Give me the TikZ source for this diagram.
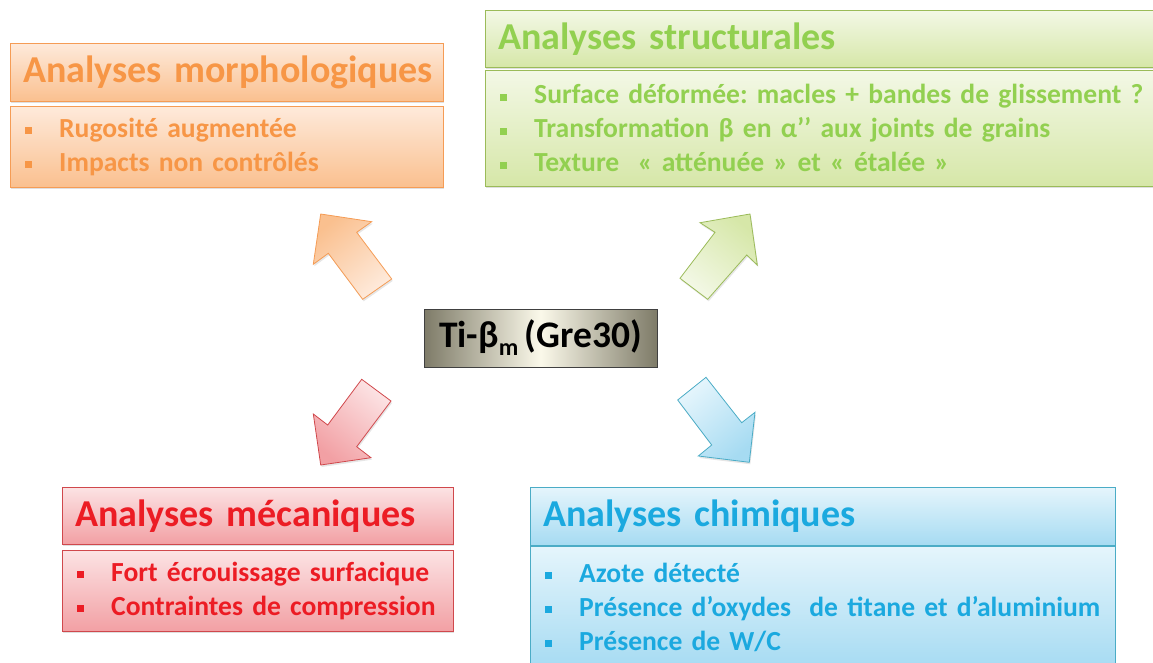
\documentclass[tikz,border=0pt]{standalone}
\usepackage{fontspec}
\setmainfont{Carlito}[WordSpace=0.78]
\frenchspacing
\usetikzlibrary{shadows}
% couleurs des quatre familles d'analyses
\definecolor{orangetxt}{HTML}{F79646}
\definecolor{orangeline}{HTML}{F59C55}
\definecolor{orangetop}{HTML}{FEEADB}
\definecolor{orangebot}{HTML}{FAC08F}
\definecolor{greentxt}{HTML}{92D050}
\definecolor{greenline}{HTML}{9BBB59}
\definecolor{greentop}{HTML}{F3F8E6}
\definecolor{greenbot}{HTML}{D6E7A8}
\definecolor{redtxt}{HTML}{EC1C24}
\definecolor{redline}{HTML}{D0484C}
\definecolor{redtop}{HTML}{FCE3E4}
\definecolor{redbot}{HTML}{F2A0A4}
\definecolor{bluetxt}{HTML}{1BA9DF}
\definecolor{blueline}{HTML}{4BACC6}
\definecolor{bluetop}{HTML}{E5F5FC}
\definecolor{bluebot}{HTML}{A6DBF2}
\definecolor{ctrdark}{HTML}{7E7B68}
\definecolor{ctrlight}{HTML}{FBF9EA}
\newcommand{\titlefont}{\fontsize{38}{44}\selectfont\bfseries}
\newcommand{\bodyfont}{\fontsize{27.6}{34}\selectfont\bfseries}
% une ligne a puce carree, sans coupure
\newcommand{\puce}[1]{\mbox{\rule[3pt]{7pt}{7pt}\hspace{27pt}#1}}
\tikzset{
  titlebox/.style={draw=#1line, top color=#1top, bottom color=#1bot, text=#1txt,
    font=\titlefont, inner xsep=13pt, align=left, anchor=north west,
    drop shadow={opacity=0.25, shadow xshift=1pt, shadow yshift=-2pt}},
  bodybox/.style={draw=#1line, top color=#1top, bottom color=#1bot, text=#1txt,
    font=\bodyfont, inner xsep=15pt, align=left, anchor=north west,
    drop shadow={opacity=0.25, shadow xshift=1pt, shadow yshift=-2pt}},
  bigarrow/.style={draw=#1line, line width=0.8pt,
    drop shadow={opacity=0.2, shadow xshift=1pt, shadow yshift=-2pt}},
}
\begin{document}
\begin{tikzpicture}[x=1pt,y=-1pt]
  \useasboundingbox (0,0) rectangle (1153,663);
  % echantillon central
  \node[draw=black!75, line width=1pt, left color=ctrdark, right color=ctrdark,
    middle color=ctrlight, minimum width=233pt, minimum height=58pt,
    font=\fontsize{37.5}{40}\selectfont\bfseries] (ech) at (540.5,338)
    {Ti-β\raisebox{-8pt}{\fontsize{24}{24}\selectfont m} (Gre30)};
  % fleches vers les analyses
  \shade[bigarrow=orange, top color=orangebot, bottom color=orangetop, shading angle=40]
    (320.7,214) -- (371.7,221.7) -- (356.7,232.3) -- (391.7,279) -- (362.7,299.3)
    -- (328.3,253.3) -- (313.3,264.3) -- cycle;
  \shade[bigarrow=green, top color=greenbot, bottom color=greentop, shading angle=-40]
    (750,214) -- (757.3,265) -- (746.7,255) -- (707.7,299.3) -- (680,278.3)
    -- (715,232.3) -- (700,222.7) -- cycle;
  \shade[bigarrow=red, top color=redtop, bottom color=redbot, shading angle=-40]
    (361.7,379.3) -- (391,401) -- (356.7,446.7) -- (371,457.7) -- (320.7,465)
    -- (313.3,414) -- (327.7,425) -- cycle;
  \shade[bigarrow=blue, top color=bluetop, bottom color=bluebot, shading angle=40]
    (706,377.3) -- (741.7,422.7) -- (755,412.3) -- (749.3,462.3) -- (698.3,456)
    -- (711.7,445) -- (677.7,400) -- cycle;
  % analyses morphologiques
  \node[titlebox=orange, minimum width=433pt, text width=407pt, minimum height=58pt]
    (morphT) at (10,43) {\mbox{Analyses morphologiques}};
  \node[bodybox=orange, minimum width=433pt, text width=403pt, minimum height=81pt]
    (morphB) at (10,106) {\puce{Rugosité augmentée}\\ \puce{Impacts non contrôlés}};
  % analyses structurales
  \node[titlebox=green, minimum width=675pt, text width=649pt, minimum height=57pt]
    (structT) at (485,10) {\mbox{Analyses structurales}};
  \node[bodybox=green, minimum width=675pt, text width=645pt, minimum height=116pt]
    (structB) at (485,70) {\puce{Surface déformée: macles + bandes de glissement ?}\\
    \puce{Transformation β en α’’ aux joints de grains}\\
    \puce{Texture~~« atténuée » et « étalée »}};
  % analyses mecaniques
  \node[titlebox=red, minimum width=391pt, text width=365pt, minimum height=57pt]
    (mecaT) at (62,487) {\mbox{Analyses mécaniques}};
  \node[bodybox=red, minimum width=391pt, text width=361pt, minimum height=81pt]
    (mecaB) at (62,550) {\puce{Fort écrouissage surfacique}\\ \puce{Contraintes de compression}};
  % analyses chimiques
  \node[titlebox=blue, minimum width=585pt, text width=559pt, minimum height=58pt]
    (chimT) at (530,487) {\mbox{Analyses chimiques}};
  \node[bodybox=blue, minimum width=585pt, text width=555pt, minimum height=122pt]
    (chimB) at (530,546) {\puce{Azote détecté}\\ \puce{Présence d’oxydes~~de titane et d’aluminium}\\
    \puce{Présence de W/C}};
\end{tikzpicture}
\end{document}
